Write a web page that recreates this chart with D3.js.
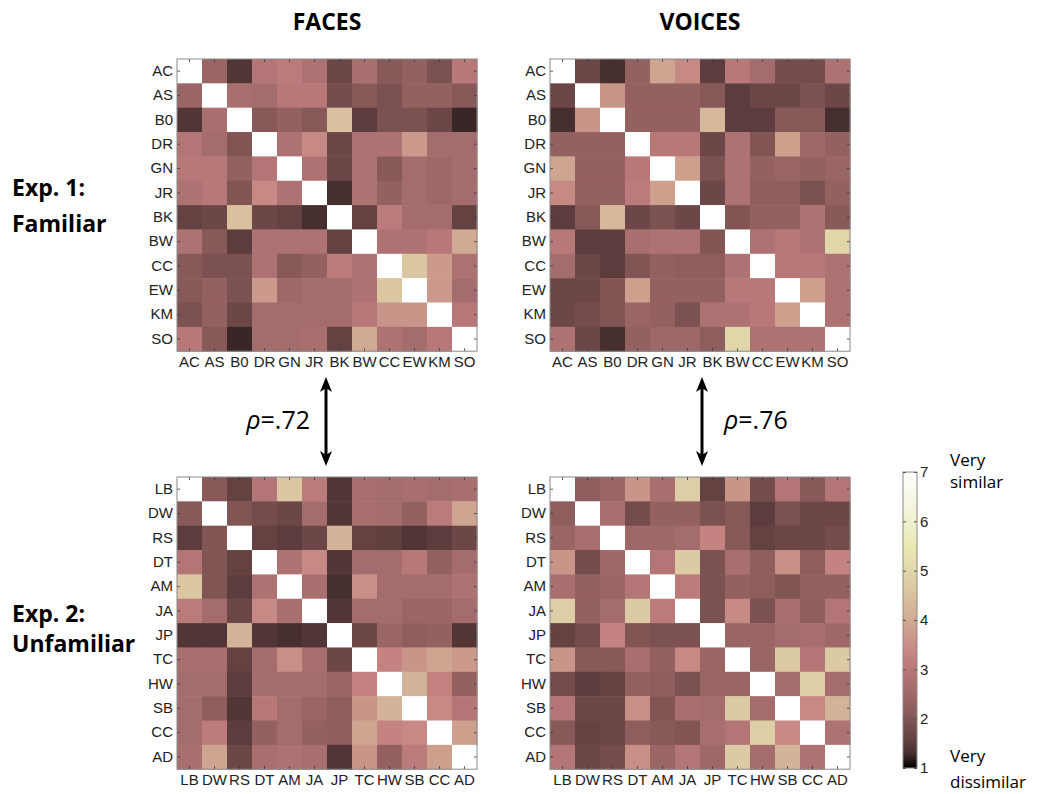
<!DOCTYPE html>
<html>
<head>
<meta charset="utf-8">
<script src="https://cdn.jsdelivr.net/npm/d3@7"></script>
<style>
  body { margin: 0; background: #fff; }
  svg { display: block; }
</style>
</head>
<body>
<svg id="chart"></svg>
<script>
// ---- data (ratings 1 = very dissimilar .. 7 = very similar) ----
const familiarIds = ["AC","AS","B0","DR","GN","JR","BK","BW","CC","EW","KM","SO"];
const unfamiliarIds = ["LB","DW","RS","DT","AM","JA","JP","TC","HW","SB","CC","AD"];

const facesFamiliar = [
  [7.0,2.4,1.4,2.9,3.1,2.8,1.7,2.7,2.1,2.3,1.9,3.0],
  [2.4,7.0,2.7,2.6,3.0,3.0,1.8,2.1,1.9,2.3,2.3,2.1],
  [1.4,2.7,7.0,2.1,2.3,2.1,4.5,1.5,1.9,1.9,1.7,1.2],
  [2.9,2.6,2.0,7.0,2.8,3.4,1.7,2.8,2.8,3.7,2.6,2.6],
  [3.0,3.0,2.3,2.9,7.0,2.8,1.7,2.8,2.1,2.6,2.5,2.6],
  [2.8,3.0,2.0,3.4,2.8,7.0,1.3,2.8,2.3,2.6,2.5,2.6],
  [1.6,1.7,4.5,1.7,1.6,1.3,7.0,1.6,3.1,2.6,2.6,1.6],
  [2.8,2.1,1.5,2.8,2.8,2.8,1.6,7.0,2.8,2.8,3.0,4.0],
  [2.1,1.9,1.9,2.8,2.1,2.3,3.1,2.8,7.0,4.6,3.7,2.8],
  [2.1,2.3,1.9,3.7,2.5,2.6,2.6,2.8,4.6,7.0,3.7,2.6],
  [1.9,2.3,1.7,2.6,2.6,2.6,2.6,3.0,3.6,3.6,7.0,3.0],
  [3.0,2.1,1.2,2.6,2.6,2.7,1.6,4.0,2.8,2.6,3.0,7.0]
];

const voicesFamiliar = [
  [7.0,1.7,1.3,2.3,3.9,3.4,1.5,3.0,2.6,1.8,1.8,2.8],
  [1.7,7.0,3.6,2.3,2.3,2.3,2.1,1.5,1.7,1.7,1.9,1.7],
  [1.3,3.6,7.0,2.3,2.3,2.3,4.3,1.5,1.5,2.1,2.1,1.3],
  [2.3,2.3,2.3,7.0,3.0,3.0,1.7,2.8,2.0,3.8,2.5,2.3],
  [3.9,2.3,2.3,3.0,7.0,3.8,1.9,2.8,2.3,2.4,2.3,2.4],
  [3.4,2.3,2.3,3.1,3.8,7.0,1.7,2.8,2.2,2.2,1.9,2.3],
  [1.5,2.1,4.3,1.7,1.9,1.7,7.0,2.0,2.3,2.3,2.8,2.1],
  [3.0,1.5,1.5,2.7,2.8,2.8,2.0,7.0,2.8,3.0,2.8,5.0],
  [2.6,1.7,1.5,2.0,2.3,2.2,2.2,2.8,7.0,3.0,3.0,2.8],
  [1.7,1.7,2.0,3.8,2.3,2.3,2.3,3.0,3.0,7.0,3.8,2.8],
  [1.7,1.8,2.0,2.4,2.3,1.9,2.8,2.8,3.0,3.8,7.0,2.8],
  [2.8,1.7,1.3,2.3,2.5,2.5,2.2,5.0,2.8,2.8,2.8,7.0]
];

const facesUnfamiliar = [
  [7.0,2.1,1.6,2.9,4.6,3.1,1.4,2.7,2.6,2.7,2.6,2.7],
  [2.1,7.0,2.0,1.8,1.7,2.6,1.4,2.7,2.6,2.3,3.1,3.9],
  [1.5,2.0,7.0,1.6,1.5,1.7,4.2,1.6,1.55,1.4,1.5,1.7],
  [2.9,2.0,1.6,7.0,2.8,3.4,1.4,2.6,2.6,3.0,2.3,2.6],
  [4.6,2.0,1.5,2.8,7.0,2.7,1.3,3.5,2.6,2.6,2.6,2.8],
  [3.1,2.6,1.7,3.4,2.7,7.0,1.4,2.6,2.6,2.4,2.4,2.6],
  [1.4,1.4,4.2,1.4,1.3,1.4,7.0,1.7,2.4,2.2,2.3,1.4],
  [2.7,2.7,1.6,2.6,3.5,2.7,1.7,7.0,3.3,3.6,3.9,3.7],
  [2.6,2.6,1.5,2.6,2.6,2.6,2.4,3.3,7.0,4.2,3.3,2.3],
  [2.6,2.2,1.4,3.0,2.6,2.4,2.2,3.6,4.2,7.0,3.4,2.9],
  [2.6,3.1,1.5,2.3,2.6,2.3,2.2,3.9,3.3,3.4,7.0,3.8],
  [2.7,3.9,1.7,2.7,2.8,2.7,1.4,3.6,2.3,3.1,3.8,7.0]
];

const voicesUnfamiliar = [
  [7.0,2.2,2.4,3.6,2.7,4.8,1.6,3.6,1.8,2.9,2.1,2.9],
  [2.2,7.0,2.7,1.8,2.3,2.3,1.9,2.1,1.5,1.9,1.7,1.7],
  [2.4,2.7,7.0,2.5,2.5,2.6,3.3,2.1,1.6,1.7,1.7,1.8],
  [3.6,1.8,2.5,7.0,2.9,4.7,1.9,2.7,2.2,3.5,2.2,3.3],
  [2.7,2.3,2.4,2.9,7.0,3.1,1.9,2.3,2.2,2.0,2.3,2.3],
  [4.8,2.3,2.6,4.7,3.1,7.0,1.9,3.4,1.9,2.7,2.2,2.9],
  [1.6,1.8,3.3,2.0,1.9,1.9,7.0,2.4,2.4,2.6,2.7,2.5],
  [3.6,2.1,2.1,2.7,2.3,3.4,2.4,7.0,2.4,4.7,2.9,4.7],
  [1.8,1.5,1.6,2.3,2.2,1.9,2.4,2.4,7.0,2.6,4.8,2.6],
  [2.9,1.7,1.7,3.5,2.0,2.7,2.6,4.7,2.6,7.0,3.4,4.2],
  [2.1,1.6,1.7,2.2,2.1,2.0,2.7,2.9,4.8,3.4,7.0,2.8],
  [2.9,1.7,1.8,3.5,2.4,2.9,2.5,4.7,2.6,4.2,2.8,7.0]
];

const columnTitles = ["FACES", "VOICES"];
const rowTitles = [["Exp. 1:", "Familiar"], ["Exp. 2:", "Unfamiliar"]];
const rhoValues = [".72", ".76"];
const colorTicks = [1, 2, 3, 4, 5, 6, 7];

// ---- layout ----
const width = 1039, height = 794;
const cellW = 25, cellH = 24.35;
const colX = [177, 550];
const rowY = [59, 477];

const svg = d3.select("#chart")
    .attr("width", width)
    .attr("height", height)

// MATLAB "pink" colormap
function pink(t) {
    t = Math.max(0, Math.min(1, t))
    let r = Math.min(1, t / 0.375)
    let g = Math.max(0, Math.min(1, (t - 0.375) / 0.375))
    let b = Math.max(0, Math.min(1, (t - 0.75) / 0.25))
    let f = h => Math.round(255 * Math.sqrt((2 * t + h) / 3))
    return d3.rgb(f(r), f(g), f(b)).toString()
}
const color = d3.scaleSequential(pink).domain([1, 7])

const panels = [
    {data: facesFamiliar, ids: familiarIds, c: 0, r: 0},
    {data: voicesFamiliar, ids: familiarIds, c: 1, r: 0},
    {data: facesUnfamiliar, ids: unfamiliarIds, c: 0, r: 1},
    {data: voicesUnfamiliar, ids: unfamiliarIds, c: 1, r: 1}
]

const labelFont = "'Liberation Sans', Arial, sans-serif"
const textFont = "'Open Sans', sans-serif"

panels.forEach(p => {
    let n = p.ids.length
    let x = d3.scaleBand().domain(d3.range(n)).range([0, n * cellW])
    let y = d3.scaleBand().domain(d3.range(n)).range([0, n * cellH])
    let g = svg.append("g").attr("transform", `translate(${colX[p.c]},${rowY[p.r]})`)

    let cells = []
    p.data.forEach((row, i) => row.forEach((v, j) => cells.push({i, j, v})))

    g.selectAll("rect.cell")
        .data(cells)
        .enter()
        .append("rect")
        .attr("class", "cell")
        .attr("x", d => x(d.j))
        .attr("y", d => y(d.i))
        .attr("width", x.bandwidth() + 0.5)
        .attr("height", y.bandwidth() + 0.5)
        .attr("fill", d => color(d.v))

    let left = d3.axisLeft(y).tickFormat(i => p.ids[i]).tickSizeInner(-3).tickSizeOuter(0).tickPadding(4)
    let bottom = d3.axisBottom(x).tickFormat(i => p.ids[i]).tickSizeInner(-3).tickSizeOuter(0).tickPadding(5)
    let top = d3.axisTop(x).tickFormat("").tickSizeInner(-3).tickSizeOuter(0)
    let right = d3.axisRight(y).tickFormat("").tickSizeInner(-3).tickSizeOuter(0)

    let axes = [
        g.append("g").call(left),
        g.append("g").attr("transform", `translate(0,${n * cellH})`).call(bottom),
        g.append("g").call(top),
        g.append("g").attr("transform", `translate(${n * cellW},0)`).call(right)
    ]
    axes.forEach(a => {
        a.select(".domain").remove()
        a.selectAll("line").attr("stroke", "#333").attr("stroke-width", 0.8)
        a.selectAll("text")
            .attr("font-family", labelFont)
            .attr("font-size", 15)
            .attr("fill", "#222")
    })

    g.append("rect")
        .attr("width", n * cellW)
        .attr("height", n * cellH)
        .attr("fill", "none")
        .attr("stroke", "#8a8a8a")
        .attr("stroke-width", 1)
})

// column titles
svg.selectAll("text.coltitle")
    .data(columnTitles)
    .enter()
    .append("text")
    .attr("x", (d, i) => colX[i] + 150)
    .attr("y", 30)
    .attr("text-anchor", "middle")
    .attr("font-family", textFont)
    .attr("font-weight", 700)
    .attr("font-size", 23)
    .text(d => d)

// row titles
const rowTitleY = [[196, 232], [622, 652]]
rowTitles.forEach((lines, r) => {
    lines.forEach((t, k) => {
        svg.append("text")
            .attr("x", 12)
            .attr("y", rowTitleY[r][k])
            .attr("font-family", textFont)
            .attr("font-weight", 700)
            .attr("font-size", 23)
            .text(t)
    })
})

// arrows + rho
const arrowX = [326, 702]
const arrowTop = 377, arrowBottom = 466
rhoValues.forEach((v, i) => {
    let ax = arrowX[i]
    svg.append("line")
        .attr("x1", ax).attr("x2", ax)
        .attr("y1", arrowTop + 10).attr("y2", arrowBottom - 10)
        .attr("stroke", "#000")
        .attr("stroke-width", 3)
    svg.append("path")
        .attr("d", `M${ax},${arrowTop} L${ax - 6},${arrowTop + 15} L${ax},${arrowTop + 11} L${ax + 6},${arrowTop + 15} Z`)
        .attr("fill", "#000")
    svg.append("path")
        .attr("d", `M${ax},${arrowBottom} L${ax - 6},${arrowBottom - 15} L${ax},${arrowBottom - 11} L${ax + 6},${arrowBottom - 15} Z`)
        .attr("fill", "#000")

    let t = svg.append("text")
        .attr("x", i == 0 ? ax - 16 : ax + 22)
        .attr("y", 429)
        .attr("text-anchor", i == 0 ? "end" : "start")
        .attr("font-family", textFont)
        .attr("font-size", 25)
    t.append("tspan").attr("font-style", "italic").text("ρ")
    t.append("tspan").text("=" + v)
})

// colorbar
const cbX = 903, cbW = 14, cbTop = 472, cbBottom = 768
const cbScale = d3.scaleLinear().domain([1, 7]).range([cbBottom, cbTop])

let defs = svg.append("defs")
let grad = defs.append("linearGradient")
    .attr("id", "cbgrad")
    .attr("x1", 0).attr("y1", 1).attr("x2", 0).attr("y2", 0)
grad.selectAll("stop")
    .data(d3.range(0, 1.0001, 0.05))
    .enter()
    .append("stop")
    .attr("offset", d => d)
    .attr("stop-color", d => pink(d))

svg.append("rect")
    .attr("x", cbX).attr("y", cbTop)
    .attr("width", cbW).attr("height", cbBottom - cbTop)
    .attr("fill", "url(#cbgrad)")
    .attr("stroke", "#8a8a8a")

let cbAxis = svg.append("g")
    .attr("transform", `translate(${cbX + cbW},0)`)
    .call(d3.axisRight(cbScale).tickValues(colorTicks).tickFormat(d3.format("d"))
        .tickSizeInner(-3).tickSizeOuter(0).tickPadding(3))
cbAxis.select(".domain").remove()
cbAxis.selectAll("line").attr("stroke", "#555")
cbAxis.selectAll("text")
    .attr("font-family", labelFont)
    .attr("font-size", 15)
    .attr("fill", "#222")
svg.append("g").attr("transform", `translate(${cbX},0)`)
    .call(d3.axisLeft(cbScale).tickValues(colorTicks).tickFormat("").tickSizeInner(-3).tickSizeOuter(0))
    .call(a => a.select(".domain").remove())
    .call(a => a.selectAll("line").attr("stroke", "#555"))

const cbNotes = [["Very", 466], ["similar", 488], ["Very", 762], ["dissimilar", 788]]
svg.selectAll("text.cbnote")
    .data(cbNotes)
    .enter()
    .append("text")
    .attr("x", 950)
    .attr("y", d => d[1])
    .attr("font-family", textFont)
    .attr("font-size", 17)
    .text(d => d[0])
</script>
</body>
</html>
